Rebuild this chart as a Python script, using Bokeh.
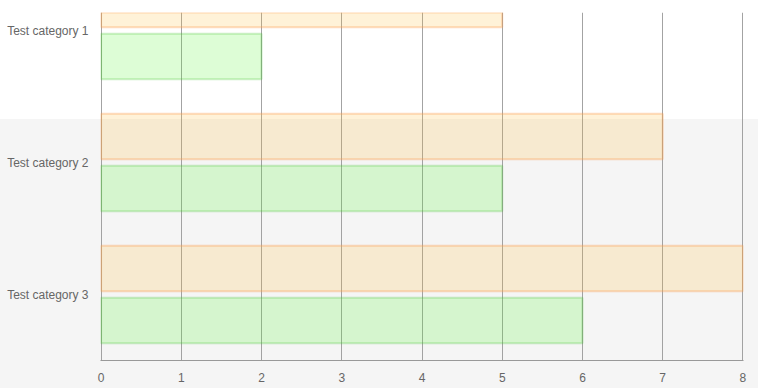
from bokeh.plotting import figure
from bokeh.models import Range1d, FixedTicker
from bokeh.embed import file_html
from bokeh.resources import INLINE

categories = ["Test category 1", "Test category 2", "Test category 3"]
series_orange = [5, 7, 8]
series_green = [2, 5, 6]
x_ticks = [0, 1, 2, 3, 4, 5, 6, 7, 8]

n = len(categories)
centers = [n - 0.5 - i for i in range(n)]
offset = 0.197
bar_h = 0.345

p = figure(width=758, height=388, output_backend="svg", toolbar_location=None,
           x_range=Range1d(-0.007, 8.007), y_range=Range1d(0, 348 / 132),
           min_border_left=100, min_border_right=15, min_border_top=12, min_border_bottom=28)
p.background_fill_color = None
p.border_fill_color = None
p.outline_line_color = None
p.styles = {"background": "linear-gradient(to bottom, #ffffff 0px, #ffffff 119px, #f5f5f5 119px, #f5f5f5 100%)"}

p.hbar(y=[c + offset for c in centers], right=series_orange, left=0, height=bar_h,
       fill_color="#fdbe3c", fill_alpha=0.2, line_color="#fc9a4a", line_alpha=0.35, line_width=2)
p.hbar(y=[c - offset for c in centers], right=series_green, left=0, height=bar_h,
       fill_color="#55f532", fill_alpha=0.2, line_color="#3cbf28", line_alpha=0.25, line_width=2)

p.xaxis.ticker = FixedTicker(ticks=x_ticks)
p.xaxis.axis_line_color = "#999999"
p.xaxis.major_tick_line_color = None
p.xaxis.minor_tick_line_color = None
p.xaxis.major_label_text_color = "#666666"
p.xaxis.major_label_text_font = "Liberation Sans"
p.xaxis.major_label_text_font_size = "12px"
p.xaxis.major_label_standoff = 6

p.yaxis.ticker = FixedTicker(ticks=centers)
p.yaxis.major_label_overrides = {c: cat for c, cat in zip(centers, categories)}
p.yaxis.axis_line_color = None
p.yaxis.major_tick_line_color = None
p.yaxis.minor_tick_line_color = None
p.yaxis.major_label_text_color = "#666666"
p.yaxis.major_label_text_font = "Liberation Sans"
p.yaxis.major_label_text_font_size = "12px"
p.yaxis.major_label_standoff = 6

p.xgrid.grid_line_color = "#999999"
p.xgrid.grid_line_alpha = 0.9
p.ygrid.grid_line_color = None

open("out.html", "w").write(file_html(p, INLINE))
